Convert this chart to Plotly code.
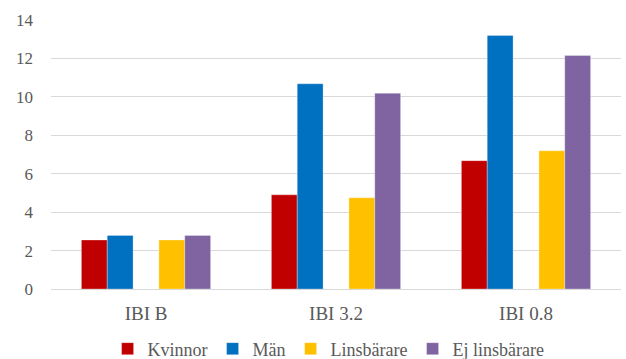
import plotly.graph_objects as go

categories = ["IBI B", "IBI 3.2", "IBI 0.8"]
kvinnor = [2.55, 4.9, 6.68]
man = [2.79, 10.68, 13.19]
linsbarare = [2.55, 4.75, 7.19]
ej_linsbarare = [2.79, 10.19, 12.15]
series_names = ["Kvinnor", "Män", "Linsbärare", "Ej linsbärare"]

colors = ["#C00000", "#0070C0", "#FFC000", "#8064A2"]
w = 0.136
offsets = [-2.5 * w, -1.5 * w, 0.5 * w, 1.5 * w]

fig = go.Figure()
for name, vals, c, off in zip(series_names, [kvinnor, man, linsbarare, ej_linsbarare], colors, offsets):
    fig.add_trace(go.Bar(
        x=categories, y=vals, name=name,
        marker=dict(color=c, line=dict(width=0.6, color="rgba(255,255,255,0.5)")),
        width=w, offset=off,
    ))

font_family = '"Liberation Serif", "DejaVu Serif", serif'
fig.update_layout(
    width=626, height=359,
    margin=dict(l=51, r=5, t=20, b=70, autoexpand=False),
    paper_bgcolor="white", plot_bgcolor="white",
    barmode="group",
    font=dict(family=font_family, color="#595959", size=15),
    showlegend=True,
    legend=dict(orientation="h", x=0.487, xanchor="center", yref="container", y=0.028, yanchor="middle",
                font=dict(family=font_family, size=18, color="#595959"), itemwidth=30,
                traceorder="normal"),
    xaxis=dict(showgrid=False, showline=True, linecolor="#d9d9d9", linewidth=1, automargin=False,
               ticks="", tickfont=dict(family=font_family, size=19, color="#595959"), ticklabelstandoff=7),
    yaxis=dict(range=[0, 14], dtick=2, showgrid=True, gridcolor="#d9d9d9", gridwidth=1, automargin=False,
               zeroline=False, showline=False, ticks="",
               tickfont=dict(family=font_family, size=17, color="#595959"), ticklabelstandoff=17),
)

fig.write_html("out.html")
